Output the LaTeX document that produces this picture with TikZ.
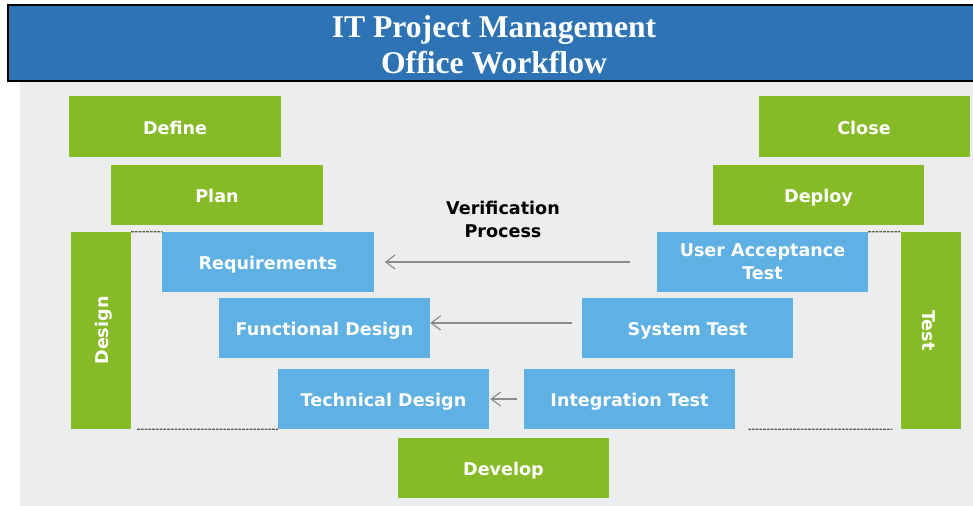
\documentclass[tikz,border=0pt]{standalone}
\usepackage{fontspec}
\usepackage{xcolor}
\usepackage{tikz}
\usetikzlibrary{arrows.meta}
\newfontfamily\boxfont{DejaVu Sans}
\newfontfamily\titlefont{Liberation Serif}
\definecolor{pmgreen}{HTML}{86BB27}
\definecolor{pmblue}{HTML}{5FB0E3}
\definecolor{hdrblue}{HTML}{2E74B5}
\definecolor{pmback}{HTML}{ECEDEF}
\definecolor{arrgray}{HTML}{8A8A8A}

\begin{document}
\begin{tikzpicture}[x=0.03cm, y=-0.03cm,
    greenbox/.style={fill=pmgreen, text=white, inner sep=0pt, minimum width=6.33cm, minimum height=1.8cm,
      font=\boxfont\bfseries\fontsize{15}{19.6}\selectfont, align=center,
      text height=13.4pt, text depth=0pt},
    bluebox/.style={greenbox, fill=pmblue},
    dotline/.style={draw=gray!70!black, line width=1.2pt, dash pattern=on 2.2pt off 1pt},
    verarrow/.style={draw=arrgray, line width=1.3pt,
      -{Straight Barb[length=8pt, width=12pt, line width=1pt]}}]
      \useasboundingbox (0,0) rectangle (973,506);
      \fill[white] (0,0) rectangle (973,506);
      \fill[pmback] (20,82) rectangle (980,510);

      \draw[fill=hdrblue, line width=1.7pt] (8,5) rectangle (990,81);
      \node[text=white, align=center, font=\titlefont\bfseries\fontsize{27}{30.7}\selectfont] (title) at (494,45)
        {IT Project Management\\Office Workflow};

      \node[greenbox] (define) at (175,126.5) {Define};
      \node[greenbox] (plan) at (217,195) {Plan};
      \node[greenbox] (close) at (864,126.5) {Close};
      \node[greenbox] (deploy) at (818.5,195) {Deploy};
      \node[greenbox, rotate=90, minimum width=5.91cm] (design) at (101,330.5) {Design};
      \node[greenbox, rotate=-90, minimum width=5.91cm] (test) at (930.5,330.5) {Test};
      \node[greenbox] (develop) at (503.5,468) {Develop};

      \node[bluebox] (req) at (268,262) {Requirements};
      \node[bluebox] (func) at (324.5,328) {Functional Design};
      \node[bluebox] (tech) at (383.5,399) {Technical Design};
      \node[bluebox] (integ) at (629.5,399) {Integration Test};
      \node[bluebox] (sys) at (687.5,328) {System Test};
      \node[bluebox, text height=, text depth=] (uat) at (762.5,262) {User Acceptance\\Test};

      \node[align=center, font=\boxfont\bfseries\fontsize{15}{19.6}\selectfont] (verif) at (503,219.5)
        {Verification\\Process};

      \draw[verarrow, shorten <=23pt, shorten >=9.4pt] (uat.west) -- (req.east);
      \draw[verarrow, shorten <=8.5pt, transform canvas={yshift=4.3pt}] (sys.west) -- (func.east);
      \draw[verarrow, shorten <=6pt, shorten >=0.9pt] (integ.west) -- (tech.east);

      \draw[dotline] (design.south east) -- (req.north west);
      \draw[dotline, shorten <=5.1pt] (design.south west) -- (tech.south west);
      \draw[dotline] (uat.north east) -- (test.south west);
      \draw[dotline, shorten <=11.1pt, shorten >=6.8pt] (integ.south east) -- (test.south east);
    \end{tikzpicture}
\end{document}
